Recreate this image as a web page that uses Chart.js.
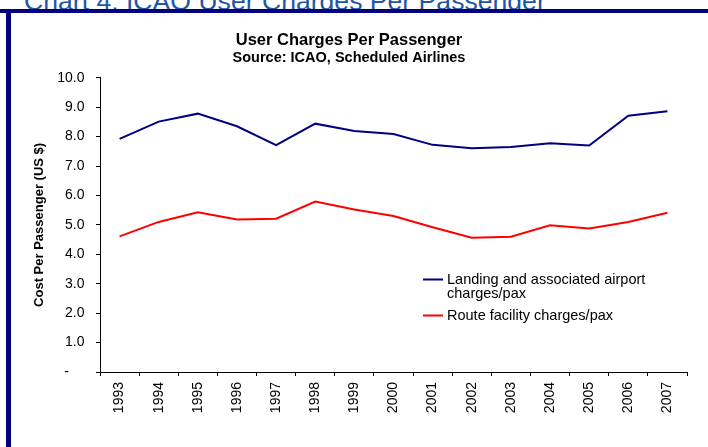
<!DOCTYPE html>
<html>
<head>
<meta charset="utf-8">
<title>User Charges Per Passenger</title>
<script src="https://cdn.jsdelivr.net/npm/chart.js@4.4.1/dist/chart.umd.min.js"></script>
<style>
  body {
    margin: 0;
    width: 708px;
    height: 447px;
    overflow: hidden;
    background: #fff;
    position: relative;
    font-family: "Liberation Sans", Arial, sans-serif;
  }
  .heading {
    position: absolute;
    left: 0;
    top: 0;
    width: 708px;
    height: 9px;
    overflow: hidden;
  }
  .heading span {
    position: absolute;
    left: 24px;
    top: -12px;
    font-size: 26.6px;
    line-height: 26px;
    color: #1f56a5;
    white-space: nowrap;
  }
  .rule {
    position: absolute;
    left: 0;
    top: 9px;
    width: 708px;
    height: 4px;
    background: #000080;
  }
  .side {
    position: absolute;
    left: 6px;
    top: 9px;
    width: 5px;
    height: 438px;
    background: #000080;
  }
  .chart-box {
    position: absolute;
    left: 11px;
    top: 13px;
    width: 697px;
    height: 434px;
  }
</style>
</head>
<body>
<div class="heading"><span>Chart 4: ICAO User Charges Per Passenger</span></div>
<div class="rule"></div>
<div class="side"></div>
<div class="chart-box"><canvas id="myChart" width="697" height="434"></canvas></div>

<script>
// years on the category axis
var years = ["1993", "1994", "1995", "1996", "1997", "1998", "1999", "2000",
             "2001", "2002", "2003", "2004", "2005", "2006", "2007"];

// cost per passenger, US $
var landingCharges = [7.92, 8.51, 8.78, 8.35, 7.71, 8.44, 8.19, 8.09,
                      7.72, 7.60, 7.65, 7.77, 7.70, 8.71, 8.86];
var routeCharges = [4.61, 5.10, 5.43, 5.18, 5.21, 5.79, 5.52, 5.30,
                    4.92, 4.56, 4.60, 4.99, 4.88, 5.10, 5.41];

var seriesNames = [
    ["Landing and associated airport", "charges/pax"],
    ["Route facility charges/pax"]
];
var seriesColors = ["#000080", "#ff0000"];

var FONT = '"Liberation Sans", Arial, sans-serif';

// legend box drawn inside the plot, lines wrap like the original
var insideLegend = {
    id: "insideLegend",
    afterDatasetsDraw: function (chart) {
        var ctx = chart.ctx;
        var y = 266.5;
        ctx.save();
        ctx.font = "14.5px " + FONT;
        ctx.fillStyle = "#000";
        ctx.textBaseline = "middle";
        ctx.textAlign = "left";
        chart.data.datasets.forEach(function (ds) {
            var lines = Array.isArray(ds.label) ? ds.label : [ds.label];
            ctx.strokeStyle = ds.borderColor;
            ctx.lineWidth = 2;
            ctx.beginPath();
            ctx.moveTo(412, Math.round(y) - 0.5);
            ctx.lineTo(432, Math.round(y) - 0.5);
            ctx.stroke();
            lines.forEach(function (t, i) {
                ctx.fillText(t, 436, y + i * 14);
            });
            y += lines.length * 14 + 8.5;
        });
        ctx.restore();
    }
};

new Chart("myChart", {
    type: "line",
    data: {
        labels: years,
        datasets: [{
            label: seriesNames[0],
            data: landingCharges,
            borderColor: seriesColors[0],
            backgroundColor: seriesColors[0],
            borderWidth: 2,
            pointRadius: 0,
            tension: 0,
            fill: false
        }, {
            label: seriesNames[1],
            data: routeCharges,
            borderColor: seriesColors[1],
            backgroundColor: seriesColors[1],
            borderWidth: 2,
            pointRadius: 0,
            tension: 0,
            fill: false
        }]
    },
    options: {
        responsive: false,
        animation: false,
        devicePixelRatio: 1,
        layout: {
            padding: { top: 0, right: 21, bottom: 0, left: 0 }
        },
        plugins: {
            legend: { display: false },
            tooltip: { enabled: false },
            title: {
                display: true,
                text: "User Charges Per Passenger",
                color: "#000",
                font: { family: FONT, size: 16.5, weight: "bold", lineHeight: 1.1 },
                padding: { top: 18.2, bottom: 0 }
            },
            subtitle: {
                display: true,
                text: "Source: ICAO, Scheduled Airlines",
                color: "#000",
                font: { family: FONT, size: 14.5, weight: "bold" },
                padding: { top: 0.4, bottom: 10.6 }
            }
        },
        scales: {
            x: {
                offset: true,
                afterFit: function (scale) { scale.height = 75; },
                grid: {
                    offset: true,
                    drawOnChartArea: false,
                    drawTicks: true,
                    tickLength: 4,
                    color: "#000"
                },
                border: { display: true, color: "#000", width: 1 },
                ticks: {
                    color: "#000",
                    font: { family: FONT, size: 14 },
                    minRotation: 90,
                    maxRotation: 90,
                    padding: 6,
                    autoSkip: false
                }
            },
            y: {
                min: 0,
                max: 10,
                afterFit: function (scale) { scale.width = 89; },
                grid: {
                    drawOnChartArea: false,
                    drawTicks: true,
                    tickLength: 4,
                    color: "#000"
                },
                border: { display: true, color: "#000", width: 1 },
                ticks: {
                    stepSize: 1,
                    color: "#000",
                    padding: 11.5,
                    font: { family: FONT, size: 14 },
                    callback: function (v) {
                        return v === 0 ? "-    " : v.toFixed(1);
                    }
                },
                title: {
                    display: true,
                    text: "Cost Per Passenger (US $)",
                    color: "#000",
                    font: { family: FONT, size: 13, weight: "bold" },
                    padding: { top: 20.4, bottom: 0 }
                }
            }
        }
    },
    plugins: [insideLegend]
});
</script>
</body>
</html>
